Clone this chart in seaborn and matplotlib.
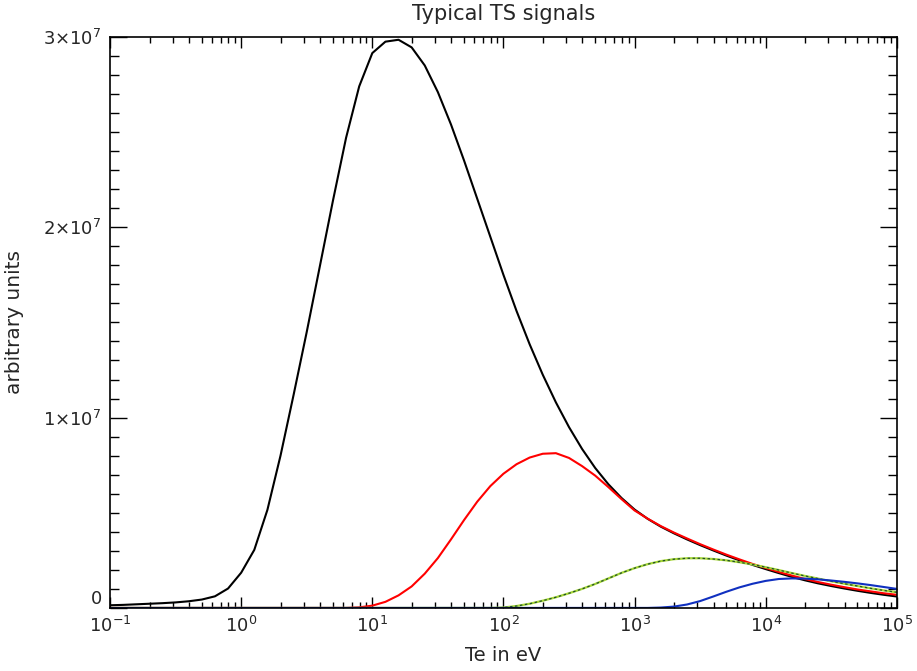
import numpy as np
import pandas as pd
import matplotlib
matplotlib.use("Agg")
import matplotlib.pyplot as plt
import matplotlib.ticker as mticker
import seaborn as sns

# sample grid: Te from 1e-1 to 1e5 eV, 0.1-decade steps
te = 10.0 ** np.linspace(-1, 5, 61)

# signals, in units of 1e6
black = [0.14, 0.16, 0.19, 0.22, 0.25, 0.29, 0.35, 0.44, 0.61, 1.02,
         1.85, 3.05, 5.15, 8.0, 11.2, 14.5, 17.95, 21.4, 24.7, 27.4,
         29.15, 29.75, 29.85, 29.45, 28.5, 27.1, 25.4, 23.5, 21.5, 19.5,
         17.5, 15.6, 13.85, 12.25, 10.8, 9.5, 8.35, 7.35, 6.5, 5.78,
         5.17, 4.68, 4.27, 3.92, 3.6, 3.3, 3.02, 2.75, 2.5, 2.26,
         2.04, 1.83, 1.63, 1.45, 1.29, 1.15, 1.02, 0.9, 0.79, 0.69,
         0.6]
red = [0, 0, 0, 0, 0, 0, 0, 0, 0, 0,
       0, 0, 0, 0, 0, 0, 0, 0, 0.0, 0.03,
       0.12, 0.32, 0.66, 1.13, 1.8, 2.62, 3.6, 4.62, 5.58, 6.4,
       7.05, 7.55, 7.9, 8.1, 8.13, 7.88, 7.45, 6.95, 6.35, 5.72,
       5.12, 4.69, 4.3, 3.96, 3.65, 3.35, 3.07, 2.8, 2.55, 2.31,
       2.1, 1.89, 1.7, 1.52, 1.36, 1.22, 1.09, 0.97, 0.87, 0.77,
       0.69]
green = [0, 0, 0, 0, 0, 0, 0, 0, 0, 0,
         0, 0, 0, 0, 0, 0, 0, 0, 0, 0,
         0, 0, 0, 0, 0, 0, 0, 0, 0, 0,
         0.02, 0.1, 0.22, 0.38, 0.56, 0.77, 1.0, 1.26, 1.55, 1.84,
         2.09, 2.3, 2.46, 2.56, 2.61, 2.61, 2.57, 2.5, 2.4, 2.28,
         2.14, 1.99, 1.83, 1.68, 1.54, 1.40, 1.27, 1.15, 1.03, 0.92,
         0.82]
blue = [0, 0, 0, 0, 0, 0, 0, 0, 0, 0,
        0, 0, 0, 0, 0, 0, 0, 0, 0, 0,
        0, 0, 0, 0, 0, 0, 0, 0, 0, 0,
        0, 0, 0, 0, 0, 0, 0, 0, 0, 0,
        0, 0, 0.02, 0.07, 0.18, 0.36, 0.6, 0.85, 1.08, 1.27,
        1.42, 1.52, 1.55, 1.54, 1.5, 1.44, 1.37, 1.29, 1.2, 1.1,
        1.0]
UNIT = 1e6

y_ticks = [0, 1e7, 2e7, 3e7]
y_ticklabels = ["0", r"1×10$^7$", r"2×10$^7$", r"3×10$^7$"]
x_ticks = [1e-1, 1e0, 1e1, 1e2, 1e3, 1e4, 1e5]
x_ticklabels = [r"10$^{-1}$", r"10$^0$", r"10$^1$", r"10$^2$", r"10$^3$", r"10$^4$", r"10$^5$"]

sns.set_style("ticks")
plt.rcParams["font.family"] = ["DejaVu Sans"]
plt.rcParams["mathtext.fontset"] = "dejavusans"

df = pd.DataFrame({"te": te,
                   "black": np.array(black) * UNIT,
                   "red": np.array(red) * UNIT,
                   "green": np.array(green) * UNIT,
                   "blue": np.array(blue) * UNIT})

fig = plt.figure(figsize=(9.17, 6.71), dpi=100)
ax = fig.add_axes([0.12, 0.094, 0.858, 0.851])

sns.lineplot(data=df, x="te", y="black", color="black", lw=1.5, ax=ax)
sns.lineplot(data=df, x="te", y="red", color="#ff0000", lw=1.5, ax=ax)
sns.lineplot(data=df, x="te", y="green", color="#a8d838", lw=1.6, ax=ax)
sns.lineplot(data=df, x="te", y="green", color="#1f4f2a", lw=0.9, ax=ax,
             dashes=False, linestyle=(0, (2, 2)))
sns.lineplot(data=df, x="te", y="blue", color="#1030c0", lw=1.5, ax=ax)

ax.set_xscale("log")
ax.set_xlim(1e-1, 1e5)
ax.set_ylim(0, 3e7)

ax.set_xticks(x_ticks)
ax.set_xticklabels(x_ticklabels)
ax.xaxis.set_minor_locator(mticker.LogLocator(base=10, subs=np.arange(2, 10)))
ax.xaxis.set_minor_formatter(mticker.NullFormatter())
ax.set_yticks(y_ticks)
ax.set_yticklabels(y_ticklabels)
ax.yaxis.set_minor_locator(mticker.MultipleLocator(1e6))

ax.tick_params(axis="both", which="both", direction="in", top=True, right=True,
               color="black", width=1.0, labelsize=13)
ax.tick_params(axis="y", which="major", length=12, pad=6)
ax.tick_params(axis="y", which="minor", length=6.5)
ax.tick_params(axis="x", which="major", length=8, pad=6)
ax.tick_params(axis="x", which="minor", length=4)

# lift the "0" label slightly above the axis line, as in the reference
for lbl in ax.get_yticklabels():
    if lbl.get_text() == "0":
        lbl.set_verticalalignment("bottom")

for s in ax.spines.values():
    s.set_linewidth(1.2)
    s.set_color("black")

ax.set_title("Typical TS signals", fontsize=15, pad=12)
ax.set_xlabel("Te in eV", fontsize=14, labelpad=7)
ax.set_ylabel("arbitrary units", fontsize=14.5, labelpad=14)

fig.savefig("out.png", dpi=100)
